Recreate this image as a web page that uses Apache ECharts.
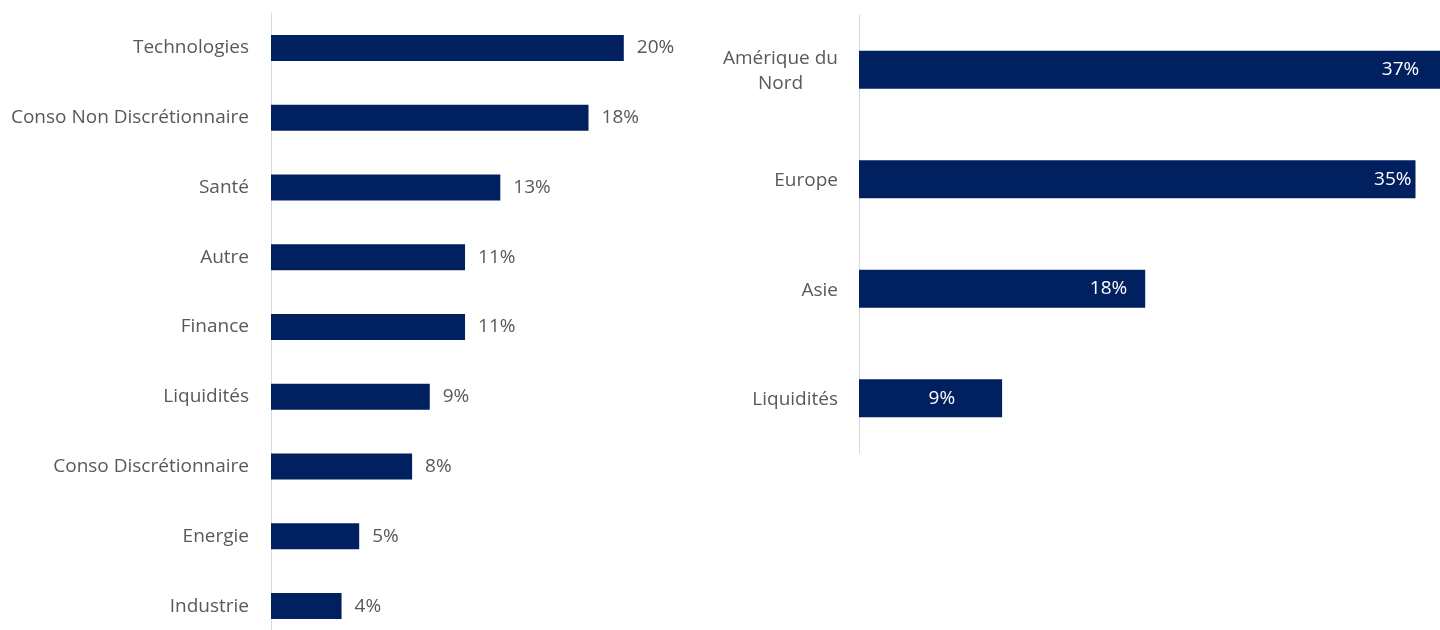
<!DOCTYPE html>
<html><head><meta charset="utf-8">
<script src="https://cdn.jsdelivr.net/npm/echarts@6/dist/echarts.min.js"></script>
<style>html,body{margin:0;padding:0;background:#fff}#c{width:1440px;height:630px}</style>
</head><body><div id="c"></div>
<script>
const sectorCategories = ['Technologies','Conso Non Discrétionnaire','Santé','Autre','Finance','Liquidités','Conso Discrétionnaire','Energie','Industrie'];
const sectorValues = [20, 18, 13, 11, 11, 9, 8, 5, 4];
const regionCategories = ['Amérique du\nNord','Europe','Asie','Liquidités'];
const regionValues = [37, 35, 18, 9];

const FONT = 'Open Sans';
const FS = 19;
const TXT = '#595959';
const BAR = '#002060';
const regionLabelShift = [-24, 0, -14, -43];

const chart = echarts.init(document.getElementById('c'));
chart.setOption({
  animation: false,
  textStyle: {fontFamily: FONT},
  grid: [
    {left: 271, top: 13, width: 441, height: 628, outerBoundsMode: 'none', containLabel: false},
    {left: 859, top: 15, width: 636, height: 438, outerBoundsMode: 'none', containLabel: false}
  ],
  xAxis: [
    {gridIndex: 0, type: 'value', min: 0, max: 25, show: false},
    {gridIndex: 1, type: 'value', min: 0, max: 40, show: false}
  ],
  yAxis: [
    {gridIndex: 0, type: 'category', inverse: true, data: sectorCategories,
     axisLine: {lineStyle: {color: '#d9d9d9', width: 1}}, axisTick: {show: false},
     axisLabel: {color: TXT, fontSize: FS, fontFamily: FONT, margin: 22, padding: [3, 0, 0, 0]}},
    {gridIndex: 1, type: 'category', inverse: true, data: regionCategories,
     axisLine: {lineStyle: {color: '#d9d9d9', width: 1}}, axisTick: {show: false},
     axisLabel: {color: TXT, fontSize: FS, fontFamily: FONT, margin: 21, padding: [3, 0, 0, 0],
       formatter: v => v.split('\n').map(l => '{c|' + l + '}').join('\n'),
       rich: {c: {align: 'center', color: TXT, fontSize: FS, fontFamily: FONT, lineHeight: 25}}}}
  ],
  series: [
    {type: 'bar', xAxisIndex: 0, yAxisIndex: 0, data: sectorValues, barWidth: 26,
     itemStyle: {color: BAR},
     label: {show: true, position: 'right', distance: 13, color: TXT, fontSize: FS, fontFamily: FONT,
       padding: [3, 0, 0, 0], formatter: p => p.value + '%'}},
    {type: 'bar', xAxisIndex: 1, yAxisIndex: 1, barWidth: 38,
     data: regionValues.map((v, i) => ({value: v, label: {offset: [regionLabelShift[i], 0]}})),
     itemStyle: {color: BAR},
     label: {show: true, position: 'insideRight', distance: 4, color: '#ffffff', fontSize: FS, fontFamily: FONT,
       padding: [3, 0, 0, 0], formatter: p => p.value + '%'}}
  ]
});
</script></body></html>
